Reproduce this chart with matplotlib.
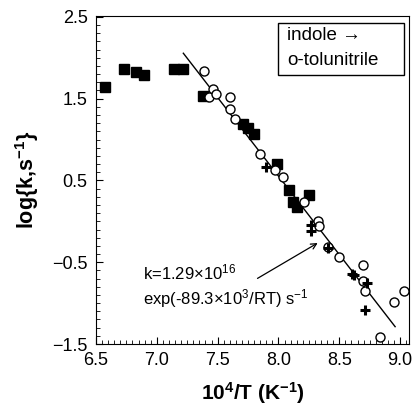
import numpy as np
import matplotlib
matplotlib.use("Agg")
import matplotlib.pyplot as plt
from matplotlib.patches import Rectangle
from matplotlib.ticker import MultipleLocator, FixedLocator

plt.rcParams['font.family'] = ['Liberation Sans', 'DejaVu Sans']
plt.rcParams['mathtext.fontset'] = 'custom'
plt.rcParams['mathtext.rm'] = 'Liberation Sans'
plt.rcParams['mathtext.bf'] = 'Liberation Sans:bold'
plt.rcParams['mathtext.default'] = 'regular'

# filled squares
sq_x = [6.574, 6.733, 6.826, 6.897, 7.141, 7.213, 7.377, 7.711, 7.747, 7.799,
        7.986, 8.09, 8.123, 8.15, 8.254]
sq_y = [1.637, 1.862, 1.83, 1.784, 1.858, 1.866, 1.534, 1.187, 1.142, 1.064,
        0.705, 0.378, 0.234, 0.172, 0.316]

# open circles
ci_x = [7.388, 7.46, 7.432, 7.487, 7.602, 7.602, 7.643, 7.849, 7.974, 8.035,
        8.21, 8.328, 8.334, 8.41, 8.501, 8.699, 8.693, 8.712, 8.951, 9.033, 8.836]
ci_y = [1.834, 1.613, 1.515, 1.555, 1.515, 1.371, 1.257, 0.828, 0.623, 0.54,
        0.234, 0.0, -0.052, -0.318, -0.433, -0.534, -0.727, -0.85, -0.981, -0.858, -1.41]

# crosses
pl_x = [7.898, 8.266, 8.266, 8.41, 8.603, 8.62, 8.726, 8.712]
pl_y = [0.663, -0.04, -0.113, -0.33, -0.645, -0.66, -0.748, -1.083]

# fitted line end points
fit_x = [7.218, 8.959]
fit_y = [2.055, -1.288]

fig = plt.figure(figsize=(4.12, 4.11), dpi=100)
ax = fig.add_axes([0.233, 0.163, 0.76, 0.798])

ax.plot(fit_x, fit_y, color='black', lw=1.0, zorder=2)
ax.plot(sq_x, sq_y, 's', color='black', ms=7, zorder=3)
ax.plot(ci_x, ci_y, 'o', mfc='white', mec='black', mew=1.0, ms=6.5, zorder=3)
ax.plot(pl_x, pl_y, '+', color='black', mew=2.2, ms=7.5, zorder=4)

ax.set_xlim(6.5, 9.074)
ax.set_ylim(-1.5, 2.51)
ax.xaxis.set_major_locator(FixedLocator([6.5, 7.0, 7.5, 8.0, 8.5, 9.0]))
ax.xaxis.set_minor_locator(MultipleLocator(0.05))
ax.yaxis.set_major_locator(FixedLocator([-1.5, -0.5, 0.5, 1.5, 2.5]))
ax.yaxis.set_minor_locator(MultipleLocator(0.1))
ax.tick_params(which='both', direction='in', top=False, right=False)
ax.tick_params(which='major', length=5, labelsize=13, pad=6)
ax.tick_params(which='minor', length=3)

ax.set_xlabel(r'10$^4$/T (K$^{-1}$)', fontsize=15, fontweight='bold', labelpad=8)
ax.set_ylabel(r'log{k,s$^{-1}$}', fontsize=15.5, fontweight='bold', labelpad=8)

# label box in the top right corner
ax.add_patch(Rectangle((0.580, 0.820), 0.404, 0.160, transform=ax.transAxes,
                       fc='white', ec='black', lw=1.0, zorder=5))
ax.text(0.610, 0.942, 'indole \u2192', transform=ax.transAxes, fontsize=13.5,
        va='center', ha='left', zorder=6)
ax.text(0.610, 0.863, 'o-tolunitrile', transform=ax.transAxes, fontsize=13.5,
        va='center', ha='left', zorder=6)

ax.text(6.886, -0.629, r'k=1.29$\times$10$^{16}$', fontsize=12, va='center', ha='left')
ax.text(6.886, -0.948, r'exp(-89.3$\times$10$^3$/RT) s$^{-1}$', fontsize=12,
        va='center', ha='left')
ax.annotate('', xy=(8.342, -0.248), xytext=(7.808, -0.715),
            arrowprops=dict(arrowstyle='->', color='black', lw=0.9))

fig.savefig('out.png', dpi=100)
